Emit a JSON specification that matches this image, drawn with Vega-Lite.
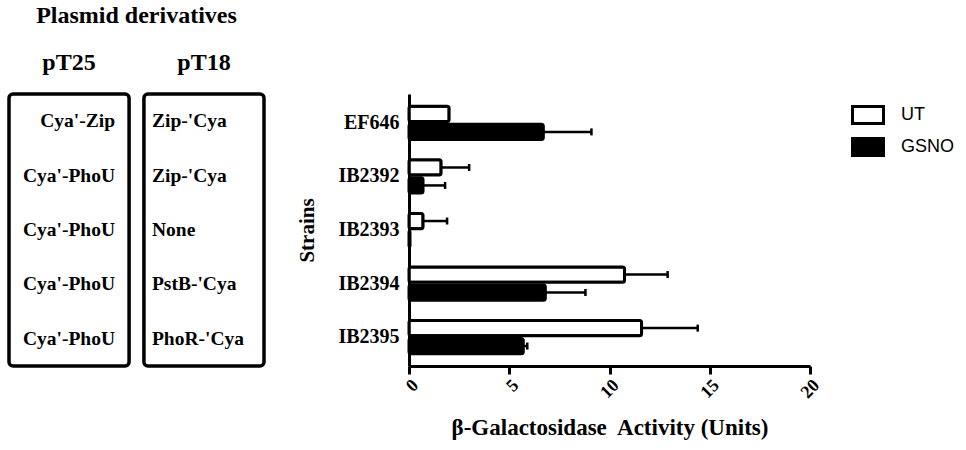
{
  "$schema": "https://vega.github.io/schema/vega-lite/v6.json",
  "padding": {"left": 7, "top": 4, "right": 5, "bottom": 5},
  "bounds": "flush",
  "spacing": 145,
  "config": {"view": {"stroke": null}, "font": "Liberation Serif"},
  "datasets": {
    "bars": [
      {"strain": "EF646", "treatment": "UT", "value": 2.0, "err": null},
      {"strain": "EF646", "treatment": "GSNO", "value": 6.7, "err": 9.1},
      {"strain": "IB2392", "treatment": "UT", "value": 1.6, "err": 3.0},
      {"strain": "IB2392", "treatment": "GSNO", "value": 0.7, "err": 1.8},
      {"strain": "IB2393", "treatment": "UT", "value": 0.7, "err": 1.9},
      {"strain": "IB2393", "treatment": "GSNO", "value": 0.05, "err": null},
      {"strain": "IB2394", "treatment": "UT", "value": 10.75, "err": 12.9},
      {"strain": "IB2394", "treatment": "GSNO", "value": 6.8, "err": 8.8},
      {"strain": "IB2395", "treatment": "UT", "value": 11.6, "err": 14.4},
      {"strain": "IB2395", "treatment": "GSNO", "value": 5.7, "err": 5.9}
    ],
    "table": [
      {"strain": "EF646", "plasmid": "pT25", "construct": "Cya'-Zip"},
      {"strain": "EF646", "plasmid": "pT18", "construct": "Zip-'Cya"},
      {"strain": "IB2392", "plasmid": "pT25", "construct": "Cya'-PhoU"},
      {"strain": "IB2392", "plasmid": "pT18", "construct": "Zip-'Cya"},
      {"strain": "IB2393", "plasmid": "pT25", "construct": "Cya'-PhoU"},
      {"strain": "IB2393", "plasmid": "pT18", "construct": "None"},
      {"strain": "IB2394", "plasmid": "pT25", "construct": "Cya'-PhoU"},
      {"strain": "IB2394", "plasmid": "pT18", "construct": "PstB-'Cya"},
      {"strain": "IB2395", "plasmid": "pT25", "construct": "Cya'-PhoU"},
      {"strain": "IB2395", "plasmid": "pT18", "construct": "PhoR-'Cya"}
    ],
    "boxes": [
      {"plasmid": "pT25"},
      {"plasmid": "pT18"}
    ]
  },
  "hconcat": [
    {
      "width": 255,
      "height": 272,
      "title": {"text": "Plasmid derivatives", "font": "Liberation Serif", "fontSize": 24, "fontWeight": "bold", "anchor": "middle", "color": "black", "offset": 22},
      "encoding": {
        "x": {"field": "plasmid", "type": "nominal", "sort": ["pT25", "pT18"],
              "scale": {"paddingInner": 0.11, "paddingOuter": 0},
              "axis": {"orient": "top", "title": null, "domain": false, "ticks": false, "labelAngle": 0,
                       "labelFont": "Liberation Serif", "labelFontSize": 24, "labelFontWeight": "bold",
                       "labelPadding": 20, "labelColor": "black"}}
      },
      "layer": [
        {
          "data": {"name": "boxes"},
          "mark": {"type": "rect", "fill": "white", "fillOpacity": 0, "stroke": "black", "strokeWidth": 3.5, "cornerRadius": 4},
          "encoding": {}
        },
        {
          "data": {"name": "table"},
          "transform": [{"filter": "datum.plasmid === 'pT25'"}],
          "mark": {"type": "text", "align": "right", "dx": 46, "font": "Liberation Serif", "fontSize": 19.5, "fontWeight": "bold", "color": "black"},
          "encoding": {
            "y": {"field": "strain", "type": "nominal", "sort": ["EF646", "IB2392", "IB2393", "IB2394", "IB2395"],
                  "scale": {"paddingInner": 0.38, "paddingOuter": 0.23}, "axis": null},
            "text": {"field": "construct"}
          }
        },
        {
          "data": {"name": "table"},
          "transform": [{"filter": "datum.plasmid === 'pT18'"}],
          "mark": {"type": "text", "align": "left", "dx": -52, "font": "Liberation Serif", "fontSize": 19.5, "fontWeight": "bold", "color": "black"},
          "encoding": {
            "y": {"field": "strain", "type": "nominal", "sort": ["EF646", "IB2392", "IB2393", "IB2394", "IB2395"],
                  "scale": {"paddingInner": 0.38, "paddingOuter": 0.23}, "axis": null},
            "text": {"field": "construct"}
          }
        }
      ]
    },
    {
      "width": 401,
      "height": 272,
      "data": {"name": "bars"},
      "encoding": {
        "y": {"field": "strain", "type": "nominal", "sort": ["EF646", "IB2392", "IB2393", "IB2394", "IB2395"],
              "scale": {"paddingInner": 0.38, "paddingOuter": 0.23},
              "axis": {"title": "Strains", "titleFont": "Liberation Serif", "titleFontSize": 21, "titleFontWeight": "bold",
                       "titleColor": "black", "titlePadding": 20,
                       "domainColor": "black", "domainWidth": 3, "ticks": false,
                       "labelFont": "Liberation Serif", "labelFontSize": 20, "labelFontWeight": "bold",
                       "labelPadding": 10, "labelColor": "black"}},
        "yOffset": {"field": "treatment", "type": "nominal", "sort": ["UT", "GSNO"], "scale": {"paddingInner": 0.15}}
      },
      "layer": [
        {
          "mark": {"type": "bar", "stroke": "black", "strokeWidth": 3, "cornerRadius": 2},
          "encoding": {
            "x": {"field": "value", "type": "quantitative", "scale": {"domain": [0, 20]},
                  "axis": {"values": [0, 5, 10, 15, 20], "grid": false, "labelAngle": -45,
                           "labelFont": "Liberation Serif", "labelFontSize": 18, "labelFontWeight": "bold", "labelColor": "black",
                           "tickSize": 8, "tickWidth": 3, "tickColor": "black", "domainColor": "black", "domainWidth": 3,
                           "title": "β-Galactosidase\u00a0 Activity (Units)", "titleFont": "Liberation Serif", "titleFontSize": 23,
                           "titleFontWeight": "bold", "titleColor": "black", "titlePadding": 15}},
            "fill": {"field": "treatment", "type": "nominal", "sort": ["UT", "GSNO"],
                     "scale": {"domain": ["UT", "GSNO"], "range": ["white", "black"]},
                     "legend": {"title": null, "orient": "right", "offset": 24, "padding": 4,
                                "symbolType": "M-1,-0.55H1V0.55H-1Z", "symbolSize": 961,
                                "symbolStrokeColor": "black", "symbolStrokeWidth": 3, "symbolOpacity": 1,
                                "labelFont": "Liberation Sans", "labelFontSize": 18, "labelOffset": 16,
                                "rowPadding": 0, "labelColor": "black"}}
          }
        },
        {
          "transform": [{"filter": "datum.err != null"}],
          "mark": {"type": "rule", "strokeWidth": 2.5, "color": "black"},
          "encoding": {
            "x": {"field": "value", "type": "quantitative"},
            "x2": {"field": "err"}
          }
        },
        {
          "transform": [{"filter": "datum.err != null"}],
          "mark": {"type": "tick", "thickness": 2.5, "size": 7, "color": "black", "opacity": 1},
          "encoding": {
            "x": {"field": "err", "type": "quantitative"}
          }
        }
      ]
    }
  ]
}
